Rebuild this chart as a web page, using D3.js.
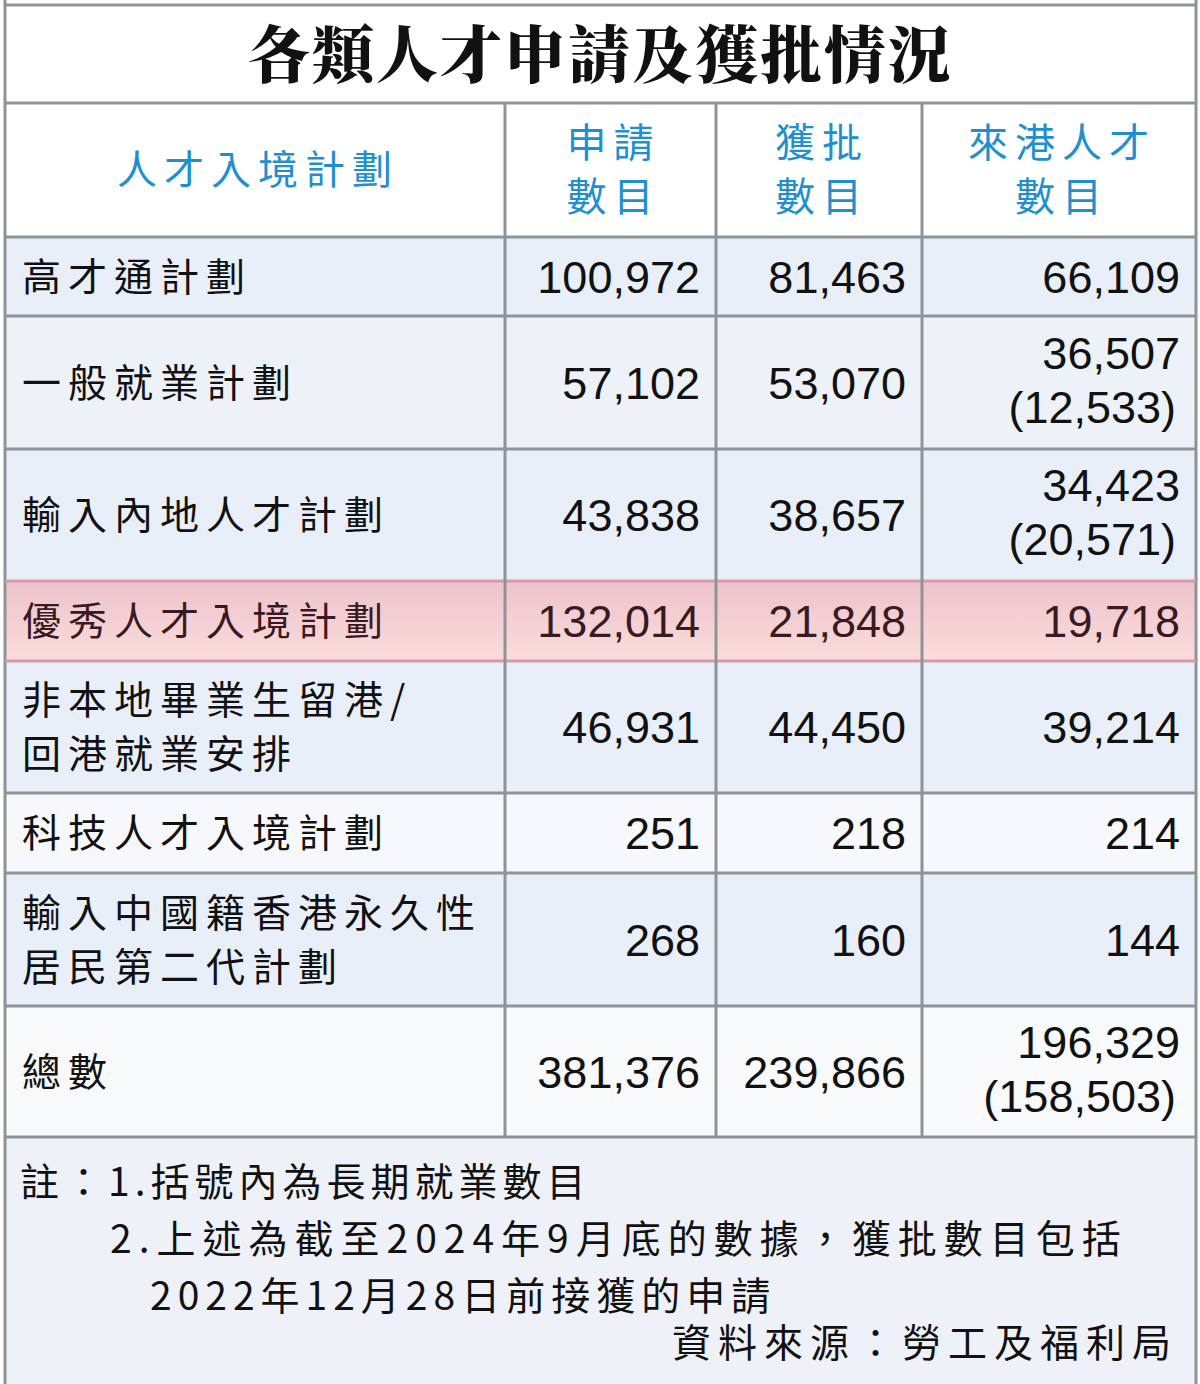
<!DOCTYPE html>
<html><head><meta charset="utf-8">
<script src="https://cdn.jsdelivr.net/npm/d3@7"></script>
<style>body{margin:0;background:#fff}</style></head>
<body><div id="chart"></div>
<script>
// table data
const title = "各類人才申請及獲批情況";
const headers = [["人才入境計劃"], ["申請", "數目"], ["獲批", "數目"], ["來港人才", "數目"]];
const plans = [["高才通計劃"], ["一般就業計劃"], ["輸入內地人才計劃"], ["優秀人才入境計劃"],
  ["非本地畢業生留港/", "回港就業安排"], ["科技人才入境計劃"], ["輸入中國籍香港永久性", "居民第二代計劃"], ["總數"]];
const applied  = [100972, 57102, 43838, 132014, 46931, 251, 268, 381376];
const approved = [81463, 53070, 38657, 21848, 44450, 218, 160, 239866];
const arrived  = [66109, 36507, 34423, 19718, 39214, 214, 144, 196329];
const longTerm = [null, 12533, 20571, null, null, null, null, 158503];
const notes = ["註：1.括號內為長期就業數目", "2.上述為截至2024年9月底的數據，獲批數目包括", "2022年12月28日前接獲的申請"];
const source = "資料來源：勞工及福利局";

const W = 1200, H = 1384;
const cjk = "'Noto Sans CJK TC','Noto Sans CJK SC',sans-serif";
const num = "'Liberation Sans Narrow','Liberation Sans',Arial,sans-serif";
const fmt = d3.format(",");

const svg = d3.select("#chart").append("svg").attr("width", W).attr("height", H);

// column and row edges
const colX = [5, 505, 716, 922, 1196];
const rowY = [103, 237, 316, 449, 581, 661, 793, 873, 1006, 1137];
const fills = ["#e9eff8", "#edf2f9", "#e9eff8", null, "#e9eff8", "#f6f8fb", "#e9eff8", "#f8f9fb"];

svg.append("rect").attr("x", 0).attr("y", 0).attr("width", W).attr("height", H).attr("fill", "#fff");
svg.append("rect").attr("x", 5).attr("y", 1137).attr("width", 1191).attr("height", 247).attr("fill", "#eef2f8");

const pink = svg.append("defs").append("linearGradient").attr("id", "pink").attr("x2", 0).attr("y2", 1);
pink.append("stop").attr("offset", 0).attr("stop-color", "#ecc3cb");
pink.append("stop").attr("offset", 1).attr("stop-color", "#fcdcdc");

fills.forEach((f, i) => {
  svg.append("rect").attr("x", colX[0]).attr("y", rowY[i + 1])
    .attr("width", colX[4] - colX[0]).attr("height", rowY[i + 2] - rowY[i + 1])
    .attr("fill", f || "url(#pink)");
});

// grid lines
const grid = svg.append("g").attr("stroke", "#8f9398").attr("stroke-width", 3);
[5, 1196].forEach(x => grid.append("line").attr("x1", x).attr("x2", x).attr("y1", 0).attr("y2", H));
grid.append("line").attr("x1", 5).attr("x2", 1196).attr("y1", 5).attr("y2", 5);
rowY.forEach(y => grid.append("line").attr("x1", 5).attr("x2", 1196).attr("y1", y).attr("y2", y)
  .attr("stroke", y === 581 || y === 661 ? "#d99aa6" : "#8f9398"));
colX.slice(1, 4).forEach(x => grid.append("line").attr("x1", x).attr("x2", x).attr("y1", 103).attr("y2", 1137));

// title
svg.append("text").attr("x", 600).attr("y", 78).attr("text-anchor", "middle")
  .attr("font-family", "'Noto Serif CJK TC'," + cjk).attr("font-weight", 900)
  .attr("font-size", 62).attr("letter-spacing", 2).attr("fill", "#111").text(title);

// headers
headers.forEach((lines, c) => {
  const cx = (colX[c] + colX[c + 1]) / 2;
  const mid = (rowY[0] + rowY[1]) / 2;
  lines.forEach((t, k) => {
    svg.append("text").attr("x", cx + 3).attr("y", mid + 14 + (k - (lines.length - 1) / 2) * 54)
      .attr("text-anchor", "middle").attr("font-family", cjk).attr("font-size", 40)
      .attr("letter-spacing", 7).attr("fill", "#1f8fd0").text(t);
  });
});

// body rows
plans.forEach((lines, i) => {
  const top = rowY[i + 1], bot = rowY[i + 2], mid = (top + bot) / 2;
  const col = i === 3 ? "#3a1a22" : "#111";
  lines.forEach((t, k) => {
    svg.append("text").attr("x", 22).attr("y", mid + 14 + (k - (lines.length - 1) / 2) * 54)
      .attr("font-family", cjk).attr("font-size", 39).attr("letter-spacing", 7)
      .attr("fill", col).text(t);
  });
  const vals = [applied[i], approved[i], arrived[i]];
  vals.forEach((v, c) => {
    const x = colX[c + 2] - 16;
    const hasLT = c === 2 && longTerm[i] != null;
    svg.append("text").attr("x", x).attr("y", hasLT ? mid - 14 : mid + 16)
      .attr("text-anchor", "end").attr("font-family", num).attr("font-size", 45)
      .attr("fill", col).text(fmt(v));
    if (hasLT) svg.append("text").attr("x", x - 4).attr("y", mid + 40)
      .attr("text-anchor", "end").attr("font-family", num).attr("font-size", 45)
      .attr("fill", col).text("(" + fmt(longTerm[i]) + ")");
  });
});

// notes
const noteX = [20, 110, 150];
const noteSp = [5, 7, 6];
notes.forEach((t, i) => {
  svg.append("text").attr("x", noteX[i]).attr("y", 1196 + i * 57)
    .attr("font-family", cjk).attr("font-size", 39).attr("letter-spacing", noteSp[i])
    .attr("fill", "#111").text(t);
});
svg.append("text").attr("x", 1178).attr("y", 1357).attr("text-anchor", "end")
  .attr("font-family", cjk).attr("font-size", 39).attr("letter-spacing", 7)
  .attr("fill", "#111").text(source);
</script></body></html>
